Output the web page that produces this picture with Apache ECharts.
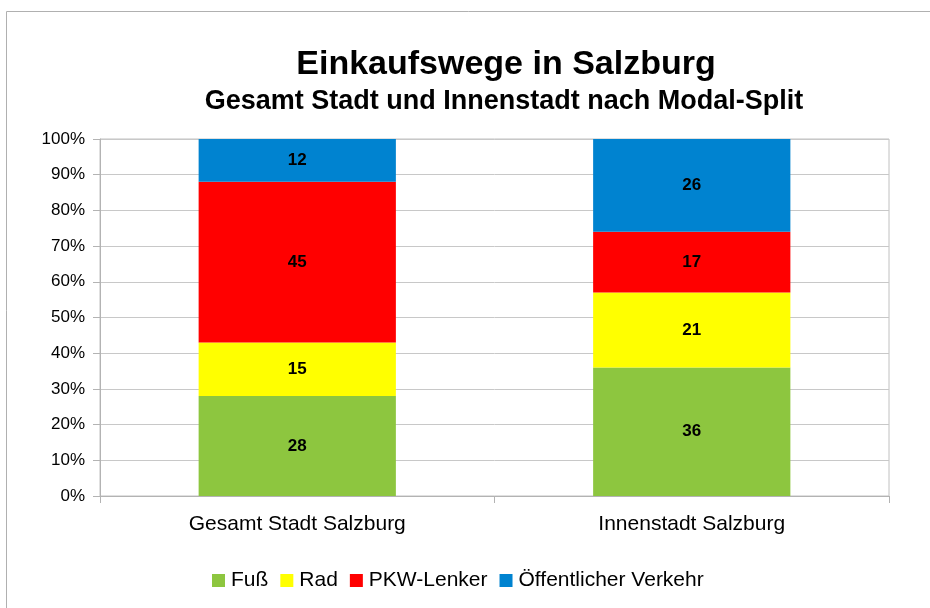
<!DOCTYPE html>
<html>
<head>
<meta charset="utf-8">
<script src="https://cdn.jsdelivr.net/npm/echarts@6/dist/echarts.min.js"></script>
<style>html,body{margin:0;padding:0;background:#fff}#c{width:930px;height:608px}</style>
</head>
<body>
<div id="c"></div>
<script>
const categories = ['Gesamt Stadt Salzburg', 'Innenstadt Salzburg'];
const fuss = [28, 36];
const rad = [15, 21];
const pkw = [45, 17];
const oev = [12, 26];
const seriesNames = ['Fuß', 'Rad', 'PKW-Lenker', 'Öffentlicher Verkehr'];
const colors = ['#8DC63F', '#FFFF00', '#FF0000', '#0083D0'];
const yTicks = [0, 10, 20, 30, 40, 50, 60, 70, 80, 90, 100];

const chart = echarts.init(document.getElementById('c'));
const font = 'Liberation Sans, Arial, sans-serif';
const dataSets = [fuss, rad, pkw, oev];
chart.setOption({
  animation: false,
  textStyle: { fontFamily: font },
  title: [
    { text: 'Einkaufswege in Salzburg', left: 501, textAlign: 'center', top: 43,
      textStyle: { fontSize: 34, fontWeight: 'bold', color: '#000', fontFamily: font } },
    { text: 'Gesamt Stadt und Innenstadt nach Modal-Split', left: 499, textAlign: 'center', top: 83,
      textStyle: { fontSize: 27, fontWeight: 'bold', color: '#000', fontFamily: font } }
  ],
  graphic: [{
    type: 'rect', shape: { x: 6.5, y: 11.5, width: 1000, height: 1000 },
    style: { fill: 'none', stroke: '#b0b0b0', lineWidth: 1 }, silent: true
  }],
  legend: {
    top: 565, left: 207, itemWidth: 13, itemHeight: 13, itemGap: 12,
    icon: 'rect',
    textStyle: { fontSize: 21, color: '#000', fontFamily: font, padding: [0, 0, 0, 1] },
    data: seriesNames
  },
  grid: { left: 100, right: 41, top: 139, bottom: 112, show: true, borderColor: '#c0c0c0', borderWidth: 1 },
  xAxis: {
    type: 'category', data: categories, boundaryGap: true,
    axisLine: { lineStyle: { color: '#b3b3b3' } },
    axisTick: { show: true, length: 7, lineStyle: { color: '#b3b3b3' } },
    axisLabel: { fontSize: 21, color: '#000', margin: 18, fontFamily: font }
  },
  yAxis: {
    type: 'value', min: 0, max: 100, interval: 10,
    axisLine: { show: true, lineStyle: { color: '#b3b3b3' } },
    axisTick: { show: true, length: 7, lineStyle: { color: '#b3b3b3' } },
    axisLabel: { fontSize: 17, color: '#000', margin: 15, fontFamily: font,
      formatter: v => yTicks.includes(v) ? v + '%' : '' },
    splitLine: { lineStyle: { color: '#c8c8c8' } }
  },
  series: seriesNames.map((n, i) => ({
    name: n, type: 'bar', stack: 'total', barWidth: '50%',
    itemStyle: { color: colors[i] },
    label: { show: true, position: 'inside', color: '#000', fontWeight: 'bold', fontSize: 17, fontFamily: font },
    data: dataSets[i]
  }))
});
</script>
</body>
</html>
